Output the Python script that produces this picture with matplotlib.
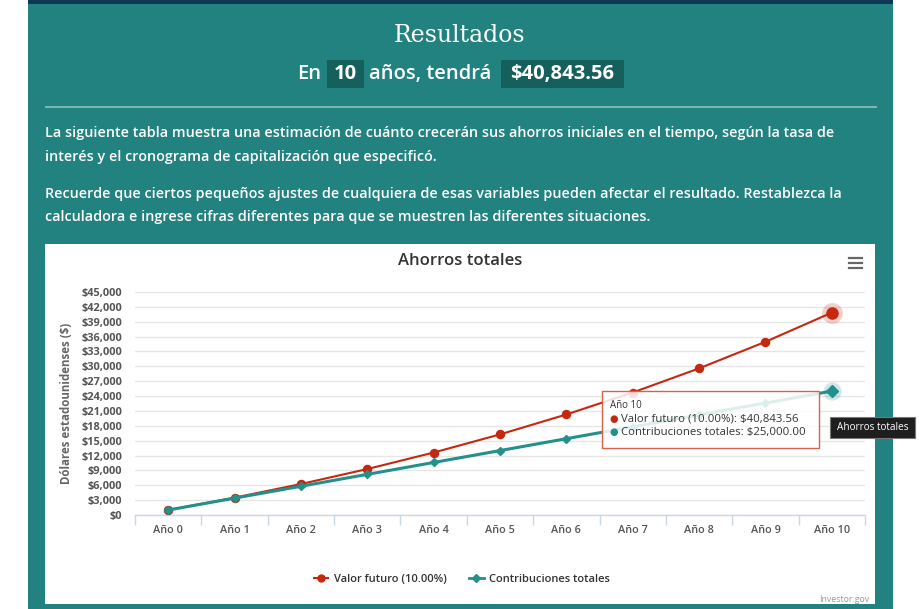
import matplotlib
matplotlib.use('Agg')
import matplotlib.pyplot as plt
from matplotlib.patches import Rectangle
from matplotlib.lines import Line2D

# ---------------- data ----------------
categories = ['Año 0', 'Año 1', 'Año 2', 'Año 3', 'Año 4', 'Año 5',
              'Año 6', 'Año 7', 'Año 8', 'Año 9', 'Año 10']
valor_futuro = [1000.00, 3500.00, 6250.00, 9275.00, 12602.50, 16262.75,
                20289.03, 24717.93, 29589.72, 34948.69, 40843.56]
contribuciones = [1000, 3400, 5800, 8200, 10600, 13000,
                  15400, 17800, 20200, 22600, 25000]
y_ticks = [0, 3000, 6000, 9000, 12000, 15000, 18000, 21000, 24000,
           27000, 30000, 33000, 36000, 39000, 42000, 45000]
serie_labels = ['Valor futuro (10.00%)', 'Contribuciones totales']
years = 10
paragraphs = [
    'La siguiente tabla muestra una estimación de cuánto crecerán sus ahorros iniciales en el tiempo, según la tasa de',
    'interés y el cronograma de capitalización que especificó.',
    'Recuerde que ciertos pequeños ajustes de cualquiera de esas variables pueden afectar el resultado. Restablezca la',
    'calculadora e ingrese cifras diferentes para que se muestren las diferentes situaciones.',
]

# ---------------- style ----------------
W, H = 921, 609
TEAL_BG = '#21827f'
DARK_BOX = '#155f5c'
NAVY = '#0c3755'
RED = '#c5280f'
TEAL = '#23908c'
SANS = ['Open Sans', 'DejaVu Sans']

def fx(x):
    return x / W

def fy(y):
    return 1 - y / H

fig = plt.figure(figsize=(W / 100, H / 100), dpi=100)
fig.patch.set_facecolor('white')

def rect(x0, y0, x1, y1, color, z=-5, ec='none', lw=0):
    fig.add_artist(Rectangle((fx(x0), fy(y1)), (x1 - x0) / W, (y1 - y0) / H,
                             transform=fig.transFigure, facecolor=color,
                             edgecolor=ec, linewidth=lw, zorder=z))

# panel
rect(28, 0, 893, 609, TEAL_BG)
rect(28, 0, 893, 4, NAVY, z=-4)
fig.add_artist(Line2D([fx(46), fx(876)], [fy(107), fy(107)], transform=fig.transFigure,
                      color='#7db3b1', lw=1.5, zorder=-3))

fig.text(fx(460), fy(35), 'Resultados', ha='center', va='center',
         family='DejaVu Serif', fontsize=17, color='white')

rect(327, 60, 364, 88, DARK_BOX, z=-3)
rect(501, 60, 624, 88, DARK_BOX, z=-3)
fig.text(fx(297), fy(74), 'En', ha='left', va='center', family=SANS,
         fontsize=14.5, weight='semibold', color='white')
fig.text(fx(345.5), fy(74), f'{years}', ha='center', va='center', family=SANS,
         fontsize=14.5, weight='bold', color='white')
fig.text(fx(369), fy(74), 'años, tendrá', ha='left', va='center', family=SANS,
         fontsize=14.5, weight='semibold', color='white')
fig.text(fx(562.5), fy(74), f'${valor_futuro[-1]:,.2f}', ha='center', va='center',
         family=SANS, fontsize=14.5, weight='bold', color='white')

for txt, y in zip(paragraphs, [133, 157, 194, 217]):
    fig.text(fx(45), fy(y), txt, ha='left', va='center', family=SANS,
             fontsize=10.4, weight='semibold', color='white')

# chart box
rect(45, 244, 875, 604, 'white', z=-2)

ax = fig.add_axes([fx(135), fy(515), 730 / W, 223 / H])
ax.set_facecolor('none')
x = list(range(len(categories)))
ax.set_xlim(-0.5, len(categories) - 0.5)
ax.set_ylim(y_ticks[0], y_ticks[-1])
for s in ['top', 'right', 'left']:
    ax.spines[s].set_visible(False)
ax.spines['bottom'].set_color('#ccd6eb')
ax.spines['bottom'].set_linewidth(1)
ax.set_yticks(y_ticks)
ax.set_yticklabels([f'${v:,}' for v in y_ticks], family=SANS, fontsize=7.9,
                   weight='bold', color='#555555')
ax.tick_params(axis='y', length=0, pad=9)
ax.yaxis.grid(True, color='#e6e6e6', lw=1)
ax.set_axisbelow(True)
ax.set_xticks(x)
ax.set_xticklabels(categories, family=SANS, fontsize=7.8, weight='semibold', color='#555555')
ax.tick_params(axis='x', which='major', length=0, pad=7)
ax.set_xticks([i - 0.5 for i in range(len(categories) + 1)], minor=True)
ax.tick_params(axis='x', which='minor', length=7.5, width=1, color='#ccd6eb')

ax.plot(x, valor_futuro, color=RED, lw=1.5, marker='o', ms=5.8, zorder=3, clip_on=False)
ax.plot(x, contribuciones, color=TEAL, lw=2.2, marker='D', ms=4, zorder=4, clip_on=False)
ax.plot([x[-1]], [valor_futuro[-1]], 'o', ms=15, color=RED, alpha=0.22, zorder=5, clip_on=False, mec='none')
ax.plot([x[-1]], [valor_futuro[-1]], 'o', ms=8, color=RED, zorder=6, clip_on=False)
ax.plot([x[-1]], [contribuciones[-1]], 'o', ms=13, color=TEAL, alpha=0.22, zorder=5, clip_on=False, mec='none')
ax.plot([x[-1]], [contribuciones[-1]], 'D', ms=6, color=TEAL, zorder=6, clip_on=False)

fig.text(fx(66), fy(403), 'Dólares estadounidenses ($)', rotation=90, ha='center',
         va='center', family=SANS, fontsize=8.3, weight='bold', color='#666666')
fig.text(fx(460), fy(261), 'Ahorros totales', ha='center', va='center', family=SANS,
         fontsize=12, weight='semibold', color='#333333')

for yy in [258, 263, 268]:
    fig.add_artist(Line2D([fx(849), fx(862)], [fy(yy), fy(yy)], transform=fig.transFigure,
                          color='#666666', lw=1.6, zorder=2))

handles = [Line2D([0], [0], color=RED, lw=1.5, marker='o', ms=5),
           Line2D([0], [0], color=TEAL, lw=2, marker='D', ms=4)]
leg = fig.legend(handles, serie_labels, loc='center', bbox_to_anchor=(fx(462), fy(579)),
                 ncol=2, frameon=False, handlelength=1.3, columnspacing=2.0,
                 handletextpad=0.5, prop={'family': SANS, 'size': 8.0, 'weight': 'semibold'})
for t in leg.get_texts():
    t.set_color('#333333')

fig.text(fx(869), fy(599), 'Investor.gov', ha='right', va='center', family=SANS,
         fontsize=6.3, color='#999999')

# tooltip
fig.add_artist(Rectangle((fx(602), fy(448)), 217 / W, 57 / H, transform=fig.transFigure,
                         facecolor=(1, 1, 1, 0.85), edgecolor='#d8614c', lw=1, zorder=10))
fig.text(fx(610), fy(405), categories[-1], ha='left', va='center', family=SANS,
         fontsize=7, color='#333333', zorder=11)
fig.text(fx(609), fy(419), '●', ha='left', va='center', family=['DejaVu Sans'],
         fontsize=7, color=RED, zorder=11)
fig.text(fx(621), fy(419), f'{serie_labels[0]}: ${valor_futuro[-1]:,.2f}', ha='left',
         va='center', family=SANS, fontsize=8.2, color='#333333', zorder=11)
fig.text(fx(609), fy(432), '●', ha='left', va='center', family=['DejaVu Sans'],
         fontsize=7, color=TEAL, zorder=11)
fig.text(fx(621), fy(432), f'{serie_labels[1]}: ${contribuciones[-1]:,.2f}', ha='left',
         va='center', family=SANS, fontsize=8.2, color='#333333', zorder=11)

rect(830, 417, 915, 438, '#1e1e1e', z=10, ec='#777777', lw=0.8)
fig.text(fx(872.5), fy(427.5), 'Ahorros totales', ha='center', va='center', family=SANS,
         fontsize=7.2, color='white', zorder=11)

fig.savefig('out.png', dpi=100, facecolor='white')
